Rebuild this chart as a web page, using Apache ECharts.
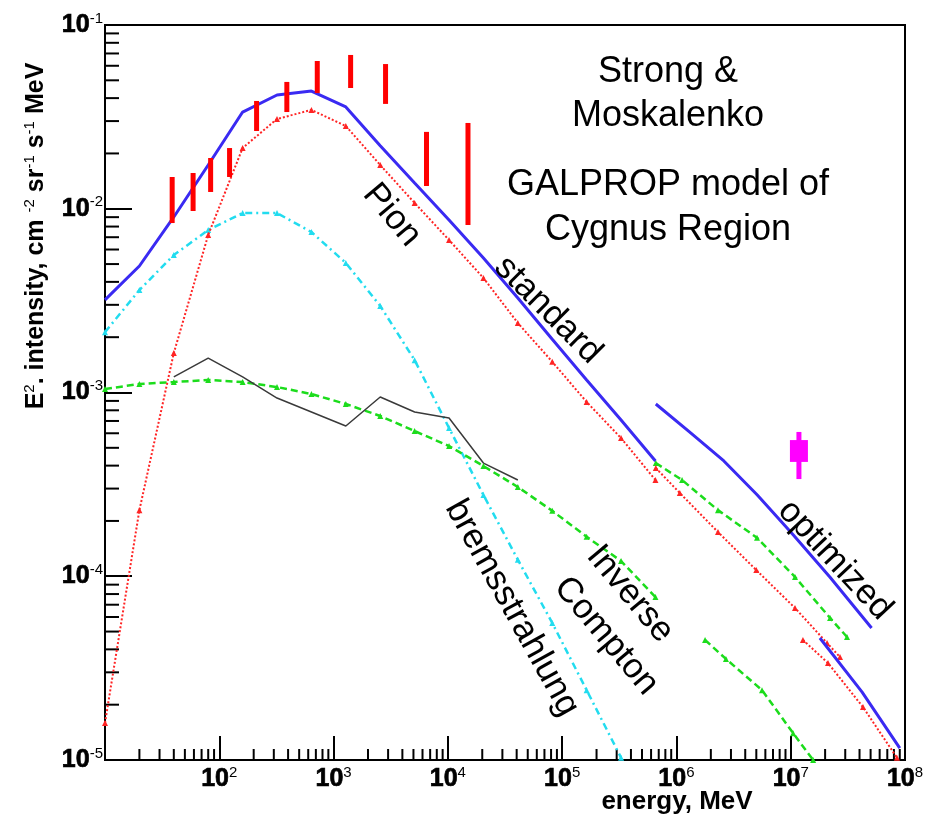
<!DOCTYPE html>
<html><head><meta charset="utf-8">
<script src="https://cdn.jsdelivr.net/npm/echarts@6/dist/echarts.min.js"></script>
<style>html,body{margin:0;padding:0;background:#fff}#chart{width:925px;height:820px}</style>
</head><body><div id="chart"></div>
<script>
// ---------------- data ----------------
// GALPROP "standard" model, energies in MeV
const stdEnergy = [10, 20, 40, 80, 160, 320, 640, 1280, 2560, 5120, 10240, 20480, 40960, 81920, 163840, 327680, 655360];
const stdTotal  = [3.19e-3, 4.88e-3, 9.02e-3, 1.73e-2, 3.36e-2, 4.16e-2, 4.37e-2, 3.58e-2, 2.20e-2, 1.38e-2, 8.69e-3, 5.40e-3, 3.27e-3, 1.95e-3, 1.17e-3, 7.08e-4, 4.24e-4];
const stdPion   = [1.59e-5, 2.29e-4, 1.64e-3, 7.20e-3, 2.14e-2, 3.08e-2, 3.45e-2, 2.82e-2, 1.73e-2, 1.075e-2, 6.76e-3, 4.20e-3, 2.39e-3, 1.47e-3, 8.88e-4, 5.65e-4, 3.34e-4];
const stdIC     = [1.045e-3, 1.112e-3, 1.14e-3, 1.17e-3, 1.14e-3, 1.071e-3, 9.81e-4, 8.66e-4, 7.45e-4, 6.17e-4, 5.11e-4, 3.98e-4, 3.06e-4, 2.27e-4, 1.64e-4, 1.21e-4, 7.71e-5];
const bremsEnergy = [10, 20, 40, 80, 160, 320, 640, 1280, 2560, 5120, 10240, 20480, 40960, 81920, 163840, 327680];
const brems       = [2.13e-3, 3.61e-3, 5.60e-3, 7.66e-3, 9.48e-3, 9.48e-3, 7.47e-3, 5.07e-3, 2.96e-3, 1.50e-3, 6.41e-4, 2.77e-4, 1.23e-4, 5.57e-5, 2.40e-5, 1.03e-5];
// thin black line
const blackEnergy = [40, 80, 160, 320, 1280, 2560, 5120, 10240, 20480, 40960];
const blackLine   = [1.215e-3, 1.54e-3, 1.215e-3, 9.33e-4, 6.57e-4, 9.45e-4, 7.83e-4, 7.26e-4, 4.13e-4, 3.34e-4];
// "optimized" model
const optTotalEnergy = [6.6e5, 1.3e6, 2.6e6, 5.1e6, 1.05e7, 2.2e7, 5.1e7];
const optTotal       = [8.66e-4, 6.10e-4, 4.24e-4, 2.77e-4, 1.68e-4, 9.91e-5, 5.23e-5];
const optPionEnergy  = [6.6e5, 1.07e6, 2.31e6, 5.0e6, 1.09e7, 2.08e7, 2.7e7];
const optPion        = [3.88e-4, 2.84e-4, 1.74e-4, 1.08e-4, 6.72e-5, 4.33e-5, 3.63e-5];
const optICEnergy    = [6.6e5, 1.12e6, 2.31e6, 5.07e6, 1.09e7, 2.21e7, 3.11e7];
const optIC          = [4.13e-4, 3.34e-4, 2.29e-4, 1.62e-4, 9.91e-5, 5.93e-5, 4.67e-5];
// high-energy standard segments
const hiTotalEnergy = [1.8e7, 4.2e7, 9.0e7];
const hiTotal       = [4.61e-5, 2.35e-5, 1.16e-5];
const hiPionEnergy  = [1.28e7, 2.12e7, 4.29e7, 8.5e7];
const hiPion        = [4.50e-5, 3.37e-5, 1.94e-5, 1.03e-5];
const hiICEnergy    = [1.78e6, 2.71e6, 5.61e6, 1.05e7, 1.57e7];
const hiIC          = [4.50e-5, 3.55e-5, 2.40e-5, 1.40e-5, 1.0e-5];
// EGRET data (red error bars)
const egretEnergy = [38.7, 59, 84, 123, 212, 390, 720, 1410, 2850, 6500, 15000];
const egretLo     = [8.36e-3, 9.72e-3, 1.234e-2, 1.489e-2, 2.65e-2, 3.36e-2, 4.26e-2, 4.54e-2, 3.72e-2, 1.33e-2, 8.16e-3];
const egretHi     = [1.489e-2, 1.565e-2, 1.889e-2, 2.14e-2, 3.86e-2, 4.90e-2, 6.37e-2, 6.87e-2, 6.13e-2, 2.62e-2, 2.93e-2];
// TeV point (magenta)
const tevEnergy = [1.18e7];
const tevLo = [3.38e-4], tevHi = [6.10e-4], tevBoxLo = [4.19e-4], tevBoxHi = [5.51e-4];
// tick labels (exponents of 10)
const xTickExponents = [2, 3, 4, 5, 6, 7, 8];
const yTickExponents = [-1, -2, -3, -4, -5];
// minor tick mantissas inside each decade
const minorMantissas = [2, 3, 4, 5, 6, 7, 8, 9];
const xDecades = [1, 2, 3, 4, 5, 6, 7];
const yDecades = [-5, -4, -3, -2];
// texts
const noteLines = ['Strong &', 'Moskalenko', 'GALPROP model of', 'Cygnus Region'];
const curveLabels = ['Pion', 'standard', 'optimized', 'bremsstrahlung', 'Inverse', 'Compton'];

// ---------------- chart ----------------
const FONT = '"Liberation Sans", Arial, Helvetica, sans-serif';
const pairs = (xs, ys) => xs.map((x, i) => [x, ys[i]]);
const expOf = v => Math.round(Math.log10(v));
const tickRich = {
  b: { fontFamily: FONT, fontSize: 25, fontWeight: 'bold', color: '#000', lineHeight: 28, textBorderColor: '#000', textBorderWidth: 0.7 },
  s: { fontFamily: FONT, fontSize: 15, color: '#000', lineHeight: 15, verticalAlign: 'top' }
};
function fmt(list) {
  return v => list.indexOf(expOf(v)) >= 0 ? '{b|10}{s|' + expOf(v) + '}' : '';
}
const BLUE = '#3a2af2', RED = '#ff2424', GREEN = '#1cdc1c', CYAN = '#22dcef';

function line(data, color, width, type, symbol, z) {
  return {
    type: 'line', data: data, z: z || 2,
    showSymbol: !!symbol, symbol: symbol || 'none', symbolSize: 6,
    itemStyle: { color: color }, lineStyle: { color: color, width: width, type: type },
    emphasis: { disabled: true }, animation: false, clip: true
  };
}

const xMinor = [], yMinor = [];
xDecades.forEach(d => minorMantissas.forEach(m => xMinor.push(m * Math.pow(10, d))));
yDecades.forEach(d => minorMantissas.forEach(m => yMinor.push(m * Math.pow(10, d))));

const axisCommon = {
  type: 'log', logBase: 10,
  axisLine: { show: true, lineStyle: { color: '#000', width: 2 } },
  splitLine: { show: false },
  minorTick: { show: false },
  minorSplitLine: { show: false }
};

const option = {
  backgroundColor: '#ffffff',
  animation: false,
  grid: { left: 105, right: 20, top: 25, bottom: 60, containLabel: false, outerBoundsMode: 'none',
          show: true, borderColor: '#000', borderWidth: 2, backgroundColor: 'transparent' },
  xAxis: Object.assign({}, axisCommon, {
    min: 10, max: 1e8,
    axisTick: { show: true, inside: true, length: 24, lineStyle: { color: '#000', width: 2 } },
    axisLabel: { show: true, margin: 5, showMinLabel: false, showMaxLabel: true, formatter: fmt(xTickExponents), rich: tickRich }
  }),
  yAxis: Object.assign({}, axisCommon, {
    min: 1e-5, max: 1e-1,
    axisTick: { show: true, inside: true, length: 27, lineStyle: { color: '#000', width: 2 } },
    axisLabel: { show: true, margin: 2, showMinLabel: true, showMaxLabel: true, formatter: fmt(yTickExponents), rich: tickRich }
  }),
  series: [
    // minor ticks (log-spaced, 2..9 in each decade)
    {
      type: 'custom', z: 1, animation: false, silent: true,
      data: xMinor.map(v => [v, 1e-5]),
      renderItem: (params, api) => {
        const p = api.coord([api.value(0), api.value(1)]);
        return { type: 'line', shape: { x1: p[0], y1: p[1], x2: p[0], y2: p[1] - 11 }, style: { stroke: '#000', lineWidth: 2 } };
      }
    },
    {
      type: 'custom', z: 1, animation: false, silent: true,
      data: yMinor.map(v => [10, v]),
      renderItem: (params, api) => {
        const p = api.coord([api.value(0), api.value(1)]);
        return { type: 'line', shape: { x1: p[0], y1: p[1], x2: p[0] + 14, y2: p[1] }, style: { stroke: '#000', lineWidth: 2 } };
      }
    },
    line(pairs(bremsEnergy, brems), CYAN, 2.5, [7, 4, 2, 4], 'triangle', 2),
    line(pairs(stdEnergy, stdIC), GREEN, 2.5, [7, 4], 'triangle', 3),
    line(pairs(optICEnergy, optIC), GREEN, 2.5, [7, 4], 'triangle', 3),
    line(pairs(hiICEnergy, hiIC), GREEN, 2.5, [7, 4], 'triangle', 3),
    line(pairs(blackEnergy, blackLine), '#3a3a3a', 1.5, 'solid', null, 3),
    line(pairs(stdEnergy, stdPion), RED, 2, [2, 2], 'triangle', 4),
    line(pairs(optPionEnergy, optPion), RED, 2, [2, 2], 'triangle', 4),
    line(pairs(hiPionEnergy, hiPion), RED, 2, [2, 2], 'triangle', 4),
    line(pairs(stdEnergy, stdTotal), BLUE, 3, 'solid', null, 5),
    line(pairs(optTotalEnergy, optTotal), BLUE, 3, 'solid', null, 5),
    line(pairs(hiTotalEnergy, hiTotal), BLUE, 3, 'solid', null, 5),
    {
      type: 'custom', z: 10, animation: false,
      data: egretEnergy.map((e, i) => [e, egretLo[i], egretHi[i]]),
      encode: { x: 0, y: [1, 2] },
      renderItem: (params, api) => {
        const a = api.coord([api.value(0), api.value(1)]);
        const b = api.coord([api.value(0), api.value(2)]);
        return { type: 'line', shape: { x1: a[0], y1: a[1], x2: b[0], y2: b[1] },
                 style: { stroke: '#ff0000', lineWidth: 5 } };
      }
    },
    {
      type: 'custom', z: 10, animation: false,
      data: tevEnergy.map((e, i) => [e, tevLo[i], tevHi[i], tevBoxLo[i], tevBoxHi[i]]),
      encode: { x: 0, y: [1, 2] },
      renderItem: (params, api) => {
        const x = api.value(0);
        const a = api.coord([x, api.value(1)]), b = api.coord([x, api.value(2)]);
        const c = api.coord([x, api.value(3)]), d = api.coord([x, api.value(4)]);
        return { type: 'group', children: [
          { type: 'line', shape: { x1: a[0], y1: a[1], x2: b[0], y2: b[1] }, style: { stroke: '#ff00ff', lineWidth: 5 } },
          { type: 'rect', shape: { x: c[0] - 9, y: d[1], width: 18, height: c[1] - d[1] }, style: { fill: '#ff00ff' } }
        ] };
      }
    }
  ],
  graphic: []
};

// annotation block
const noteY = [72, 116, 185, 230];
noteLines.forEach((t, i) => option.graphic.push({
  type: 'text', x: 668, y: noteY[i], z: 20,
  style: { text: t, font: 'normal 36px ' + FONT, fill: '#000', align: 'center', verticalAlign: 'middle' }
}));
// rotated curve labels: [x, y, angle deg clockwise]
const labelPos = [[392, 215, 50], [548, 310, 45], [835, 560, 47], [512, 608, 61], [630, 594, 50], [606, 636, 50]];
curveLabels.forEach((t, i) => option.graphic.push({
  type: 'text', x: labelPos[i][0], y: labelPos[i][1], rotation: -labelPos[i][2] * Math.PI / 180, z: 20,
  style: { text: t, font: 'normal 35px ' + FONT, fill: '#000', align: 'center', verticalAlign: 'middle' }
}));
// axis titles
option.graphic.push({
  type: 'text', x: 36, y: 236, rotation: Math.PI / 2, z: 20,
  style: {
    text: '{n|E}{s|2}{n|. intensity, cm }{s|-2}{n| sr}{s|-1}{n| s}{s|-1}{n| MeV}',
    align: 'center', verticalAlign: 'middle',
    rich: {
      n: { fontFamily: FONT, fontSize: 25, fontWeight: 'bold', fill: '#000', lineHeight: 28 },
      s: { fontFamily: FONT, fontSize: 15, fill: '#000', lineHeight: 15, verticalAlign: 'top' }
    }
  }
});
option.graphic.push({
  type: 'text', x: 677, y: 802, z: 20,
  style: { text: 'energy, MeV', font: 'bold 26px ' + FONT, fill: '#000', align: 'center', verticalAlign: 'middle' }
});

const chart = echarts.init(document.getElementById('chart'), null, { renderer: 'canvas' });
chart.setOption(option);
</script></body></html>
